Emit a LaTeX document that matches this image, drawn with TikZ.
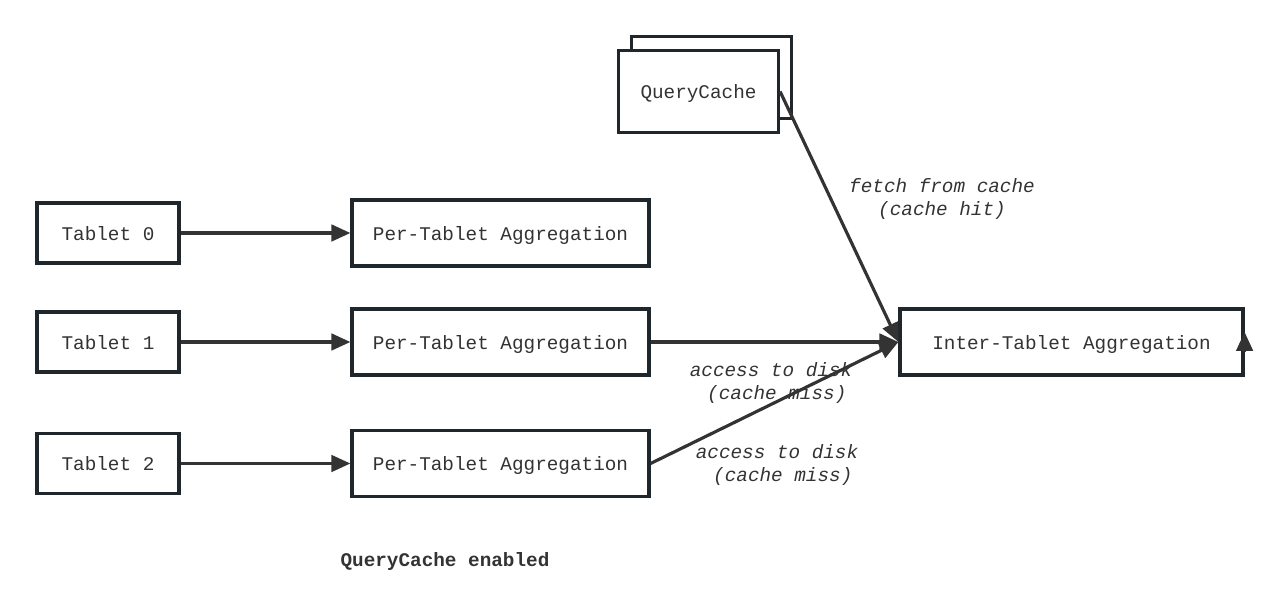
\documentclass[tikz,border=0pt]{standalone}
\usepackage{fontspec}
\setmonofont{Liberation Mono}
\usepackage{xcolor}
\usepackage{tikz}
\usetikzlibrary{arrows.meta, positioning, calc}
\definecolor{inkdark}{HTML}{1F262C}
\definecolor{inkline}{HTML}{333333}
\tikzset{
  box/.style={draw=inkdark, fill=white, line width=1.8pt, font=\fontsize{11}{13}\selectfont\ttfamily,
              text=inkline, inner sep=0pt, text height=10.5pt, text depth=2.5pt},
  flow/.style={-{Triangle[length=3.8mm, width=3.3mm]}, line width=1.8pt, color=inkline},
  lbl/.style={font=\fontsize{11}{13.5}\selectfont\ttfamily\itshape, text=inkline, align=center},
}
\begin{document}
\begin{tikzpicture}[x=1cm, y=1cm,
  tab/.style={box, minimum width=2.84cm, minimum height=1.2cm},
  agg/.style={box, minimum width=5.94cm, minimum height=1.32cm},
  hd/.style={font=\fontsize{11}{13}\selectfont\ttfamily\bfseries, text=inkline}]
  \useasboundingbox (0,0) rectangle (25.6,-12.22);
  \foreach \k/\y in {0/4.66, 1/6.84, 2/9.27}
    { \node[tab] (tab\k) at (2.16,-\y) {Tablet \k};
      \node[agg] (agg\k) at (10.01,-\y) {Per-Tablet Aggregation};
      \draw[flow] (tab\k) -- (agg\k); }
  \node[box, minimum width=6.86cm, minimum height=1.32cm] (inter) at (21.43,-6.84) {Inter-Tablet Aggregation};
  \node[box, minimum width=3.2cm, minimum height=1.64cm] (qcback) at (14.23,-1.55) {};
  \node[box, minimum width=3.2cm, minimum height=1.64cm] (qc) at (13.97,-1.83) {QueryCache};
  \draw[flow] (qc.east) -- (inter.west);
  \draw[flow] (agg1.east) -- (inter.west);
  \draw[flow] (agg2.east) -- (inter.west);
  \coordinate (loopa) at ($(inter.east)+(0,-0.2)$);
  \coordinate (loopb) at ($(inter.east)+(0,0.2)$);
  \draw[flow] (loopa) -- (loopb);
  \node[lbl] (hit) at (18.84,-3.98) {fetch from cache\\(cache hit)};
  \node[lbl] (miss1) at (15.42,-7.66) {access to disk\\\hphantom{a}(cache miss)};
  \node[lbl] (miss2) at (15.54,-9.3) {access to disk\\\hphantom{a}(cache miss)};
  \node[hd] (title) at (8.9,-11.24) {QueryCache enabled};
\end{tikzpicture}
\end{document}
